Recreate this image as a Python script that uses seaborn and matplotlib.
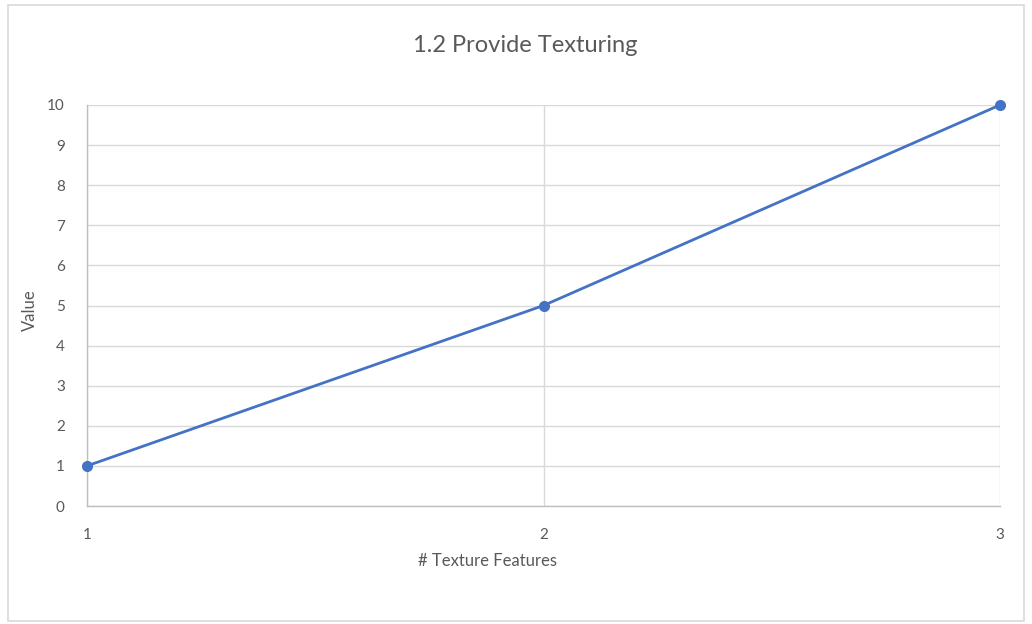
import matplotlib
matplotlib.use("Agg")
import matplotlib.pyplot as plt
import seaborn as sns
import pandas as pd
from matplotlib.patches import Rectangle

# Data
texture_features = [1, 2, 3]
values = [1, 5, 10]
y_ticks = list(range(0, 11))
x_ticks = [1, 2, 3]

sns.set_theme(style="white")
plt.rcParams['font.family'] = ['Lato', 'DejaVu Sans']

W, H = 1032, 624
fig = plt.figure(figsize=(W / 100, H / 100), dpi=100)
ax = fig.add_axes([87 / W, 1 - 506 / H, (1000 - 87) / W, (506 - 105) / H])

df = pd.DataFrame({"# Texture Features": texture_features, "Value": values})
sns.lineplot(data=df, x="# Texture Features", y="Value", ax=ax,
             color="#4472C4", linewidth=2, marker="o", markersize=8,
             markeredgewidth=0, clip_on=False, zorder=3)

ax.set_xlim(1, 3)
ax.set_ylim(0, 10)
ax.set_xticks(x_ticks)
ax.set_yticks(y_ticks)
ax.grid(True, color="#D9D9D9", linewidth=1)
for side in ["top", "right"]:
    ax.spines[side].set_visible(False)
for side in ["left", "bottom"]:
    ax.spines[side].set_color("#BFBFBF")
    ax.spines[side].set_linewidth(1)
ax.tick_params(axis="both", colors="#595959", labelsize=11, length=0)
ax.tick_params(axis="x", pad=16)
ax.tick_params(axis="y", pad=16)
ax.set_xlabel("# Texture Features", color="#595959", fontsize=12)
ax.set_ylabel("Value", color="#595959", fontsize=12)
# label positions in pixel terms of the reference
ax.xaxis.set_label_coords((487 - 87) / (1000 - 87), -(553 - 506) / (506 - 105), transform=ax.transAxes)
ax.yaxis.set_label_coords(-(87 - 38) / (1000 - 87), (506 - 310) / (506 - 105), transform=ax.transAxes)
fig.text(525 / W, 1 - 45 / H, "1.2 Provide Texturing", color="#595959",
         fontsize=17, ha="center", va="center")

# chart border
fig.patches.append(Rectangle((8 / W, 1 - 621 / H), (1024 - 8) / W, (621 - 5) / H,
                             transform=fig.transFigure, fill=False,
                             edgecolor="#D9D9D9", linewidth=1.2))

fig.savefig("out.png", dpi=100)
